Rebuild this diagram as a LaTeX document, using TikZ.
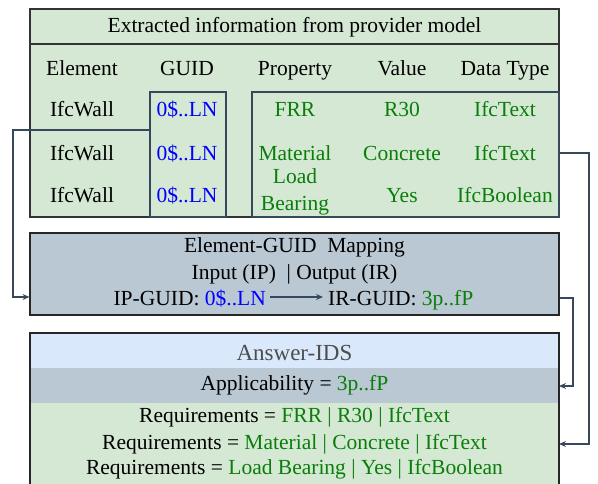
\documentclass[tikz,border=0pt]{standalone}
\usepackage{fontspec}
\setmainfont{Liberation Serif}
\usetikzlibrary{arrows.meta}
\definecolor{gfill}{HTML}{D5E8D4}
\definecolor{bfill}{HTML}{BAC8D3}
\definecolor{lfill}{HTML}{DAE8FC}
\definecolor{edge}{HTML}{36495C}
\definecolor{gtext}{HTML}{0A7D0A}
\definecolor{btext}{HTML}{0000FF}
\definecolor{ttext}{HTML}{4D4D4D}
\begin{document}
\begin{tikzpicture}[x=1pt,y=-1pt,
  base/.style={font=\fontsize{21.5}{24}\selectfont, inner sep=0pt, anchor=center},
  txt/.style={base, text height=14pt, text depth=4pt},
  gt/.style={txt, text=gtext},
  bt/.style={txt, text=btext},
  conn/.style={draw=edge, line width=1.1pt, -{Stealth[length=7pt,width=6pt,inset=2.5pt]}},
  ibox/.style={draw=edge, line width=1.1pt}]
\useasboundingbox (0,0) rectangle (598,483);
% top box
\path[fill=gfill, draw=black!80, line width=1.1pt] (30,9) rectangle (559,217);
\draw[black!80, line width=1.1pt] (30,44) -- (559,44);
\node[txt] (title) at (294.5,27) {Extracted information from provider model};
\node[txt] (hEl) at (82,70) {Element};
\node[txt] (hGu) at (187,70) {GUID};
\node[txt] (hPr) at (295,70) {Property};
\node[txt] (hVa) at (402,70) {Value};
\node[txt] (hDt) at (505,70) {Data Type};
\node[ibox, minimum width=76pt, minimum height=125pt, inner sep=0pt] (guidbox) at (188,154.5) {};
\node[ibox, minimum width=307pt, minimum height=125pt, inner sep=0pt] (propbox) at (405.5,154.5) {};
\node[txt] (e1) at (82,111) {IfcWall};
\node[txt] (e2) at (82,155) {IfcWall};
\node[txt] (e3) at (82,197) {IfcWall};
\node[bt] (g1) at (187,111) {0\$..LN};
\node[bt] (g2) at (187,155) {0\$..LN};
\node[bt] (g3) at (187,197) {0\$..LN};
\node[gt] (p1) at (295,111) {FRR};
\node[gt] (p2) at (295,155) {Material};
\node[base, text=gtext, align=center, font=\fontsize{21.5}{27}\selectfont] (p3) at (295,192) {Load\\Bearing};
\node[gt] (v1) at (402,111) {R30};
\node[gt] (v2) at (402,155) {Concrete};
\node[gt] (v3) at (402,197) {Yes};
\node[gt] (d1) at (505,111) {IfcText};
\node[gt] (d2) at (505,155) {IfcText};
\node[gt] (d3) at (505,197) {IfcBoolean};
% middle box
\node[draw=black!85, line width=1.1pt, fill=bfill, minimum width=529pt, minimum height=82pt, inner sep=0pt] (map) at (294.5,274) {};
\node[txt] (m1) at (294.5,247) {Element-GUID\ \ Mapping};
\node[txt] (m2) at (294.5,274) {Input (IP)\ \ | Output (IR)};
\node[txt, anchor=east] (ip) at (266,300) {IP-GUID: \textcolor{btext}{0\$..LN}};
\node[txt, anchor=west] (ir) at (328,300) {IR-GUID: \textcolor{gtext}{3p..fP}};
\draw[conn] ([xshift=4pt,yshift=3pt]ip.east) -- ([xshift=-5pt,yshift=3pt]ir.west);
% bottom box
\path[fill=lfill] (30,333) rectangle (559,368);
\path[fill=bfill] (30,368) rectangle (559,403);
\path[fill=gfill] (30,403) rectangle (559,490);
\draw[black!85, line width=1.1pt] (30,490) -- (30,333) -- (559,333) -- (559,490);
\node[txt, text=ttext, font=\fontsize{23}{26}\selectfont] (ans) at (294.5,355) {Answer-IDS};
\node[txt] (app) at (294.5,385) {Applicability = \textcolor{gtext}{3p..fP}};
\node[txt] (r1) at (294.5,417) {Requirements = \textcolor{gtext}{FRR | R30 | IfcText}};
\node[txt] (r2) at (294.5,444) {Requirements = \textcolor{gtext}{Material | Concrete | IfcText}};
\node[txt] (r3) at (294.5,469) {Requirements = \textcolor{gtext}{Load Bearing | Yes | IfcBoolean}};
\coordinate (appE) at (559,386);
\coordinate (reqE) at (559,444);
% connectors
\draw[conn] (guidbox.west |- 0,130) -| (13,297) -- (map.west |- 0,297);
\draw[conn] (propbox.east |- 0,153) -| (589,444) -- (reqE);
\draw[conn] (map.east |- 0,298) -| (573,386) -- (appE);
\end{tikzpicture}
\end{document}
